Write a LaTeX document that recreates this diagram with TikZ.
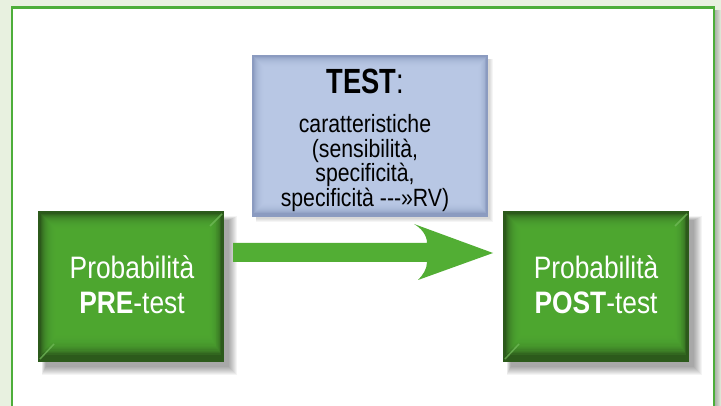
\documentclass[tikz,border=0pt]{standalone}
\usepackage{fontspec}
\setmainfont{Liberation Sans}
\newfontfamily\cf[FakeStretch=0.85]{Liberation Sans}
\newfontfamily\tf[FakeStretch=0.78]{Liberation Sans}
\usetikzlibrary{calc}
\definecolor{bgc}{HTML}{E8F1E0}
\definecolor{framec}{HTML}{4DAE3A}
\definecolor{gdark}{HTML}{2C5A1B}
\definecolor{glight}{HTML}{52AD34}
\definecolor{bdark}{HTML}{8B9BC0}
\definecolor{blight}{HTML}{BFCDEA}
\definecolor{arrowc}{HTML}{52AE34}
\tikzset{
  boxnode/.style={inner sep=0pt, outer sep=0pt, minimum width=186pt, minimum height=151pt},
  testnode/.style={inner sep=0pt, outer sep=0pt, minimum width=236pt, minimum height=162pt},
  gtext/.style={anchor=base, inner sep=0pt, text=white, font=\cf\fontsize{31}{36}\selectfont},
  ttitle/.style={anchor=base, inner sep=0pt, text=black, font=\tf\fontsize{35}{40}\selectfont},
  tbody/.style={anchor=base, inner sep=0pt, text=black, font=\cf\fontsize{25}{29}\selectfont},
}
\newcommand\mygreenbox[1]{%
  \foreach \i in {1,...,9}
    \fill[black, opacity=0.045] ($(#1.north west)+(8-0.5*\i,10-0.5*\i)$) rectangle ($(#1.south east)+(4+\i,4+\i)$);
  \fill[gdark] (#1.north west) rectangle (#1.south east);
  \foreach \i in {1,...,16}
    \fill[glight, fill opacity=0.17] ($(#1.north west)+(2+\i,2+\i)$) rectangle ($(#1.south east)+(-2-0.8*\i,-6-1.3*\i)$);
  \draw[glight!80!white, line width=1.5pt, opacity=0.7] ($(#1.south west)+(2,-3)$) -- ($(#1.south west)+(16,-18)$);
  \draw[glight!80!white, line width=1.5pt, opacity=0.7] ($(#1.north east)+(-2,3)$) -- ($(#1.north east)+(-14,15)$);
}
\begin{document}
\begin{tikzpicture}[x=1pt,y=-1pt]
\fill[bgc] (0,0) rectangle (721,406);
\useasboundingbox (0,0) rectangle (721,406);
% frame shadow and frame
\foreach \i in {0,...,6}
  \fill[black!70, opacity=0.07] (16,10) rectangle (715+\i,420);
\filldraw[fill=white, draw=framec, line width=2.5pt] (12,7.5) rectangle (714,420);

% nodes
\node[boxnode] (pre) at (131,286.5) {};
\node[boxnode] (post) at (596,286.5) {};
\node[testnode] (test) at (370,136) {};

% boxes
\mygreenbox{pre}
\mygreenbox{post}
\foreach \i in {1,...,4}
  \fill[black, opacity=0.04] ($(test.north west)+(4,4)$) rectangle ($(test.south east)+(1+\i,1+\i)$);
\fill[bdark] (test.north west) rectangle (test.south east);
\foreach \i in {1,...,11}
  \fill[blight, fill opacity=0.2] ($(test.north west)+(1+\i,1+\i)$) rectangle ($(test.south east)+(-1-0.8*\i,-3-\i)$);

% arrow
\coordinate (as) at ($(pre.east)+(9,-34)$);
\coordinate (at) at ($(post.west)+(-10,-33.5)$);
\fill[arrowc] ($(as)+(0,-9.5)$) -- ($(at)+(-66,-10)$)
  .. controls ($(at)+(-66,-18)$) and ($(at)+(-72,-25)$) .. ($(at)+(-79,-29)$)
  -- (at) -- ($(at)+(-75,27)$)
  .. controls ($(at)+(-70,22)$) and ($(at)+(-66,16)$) .. ($(at)+(-66,9)$)
  -- ($(as)+(0,9.5)$) -- cycle;

% texts
\node[gtext] (pre1) at (132,279) {Probabilità};
\node[gtext] (pre2) at (132,314) {\textbf{PRE}-test};
\node[gtext] (post1) at (596,279) {Probabilità};
\node[gtext] (post2) at (596,314) {\textbf{POST}-test};
\node[ttitle] (t0) at (365,94) {\textbf{TEST}:};
\node[tbody] (t1) at (365,133) {caratteristiche};
\node[tbody] (t2) at (365,157.5) {(sensibilità,};
\node[tbody] (t3) at (365,182) {specificità,};
\node[tbody] (t4) at (365,206.5) {specificità -{}-{}-»RV)};
\end{tikzpicture}
\end{document}
